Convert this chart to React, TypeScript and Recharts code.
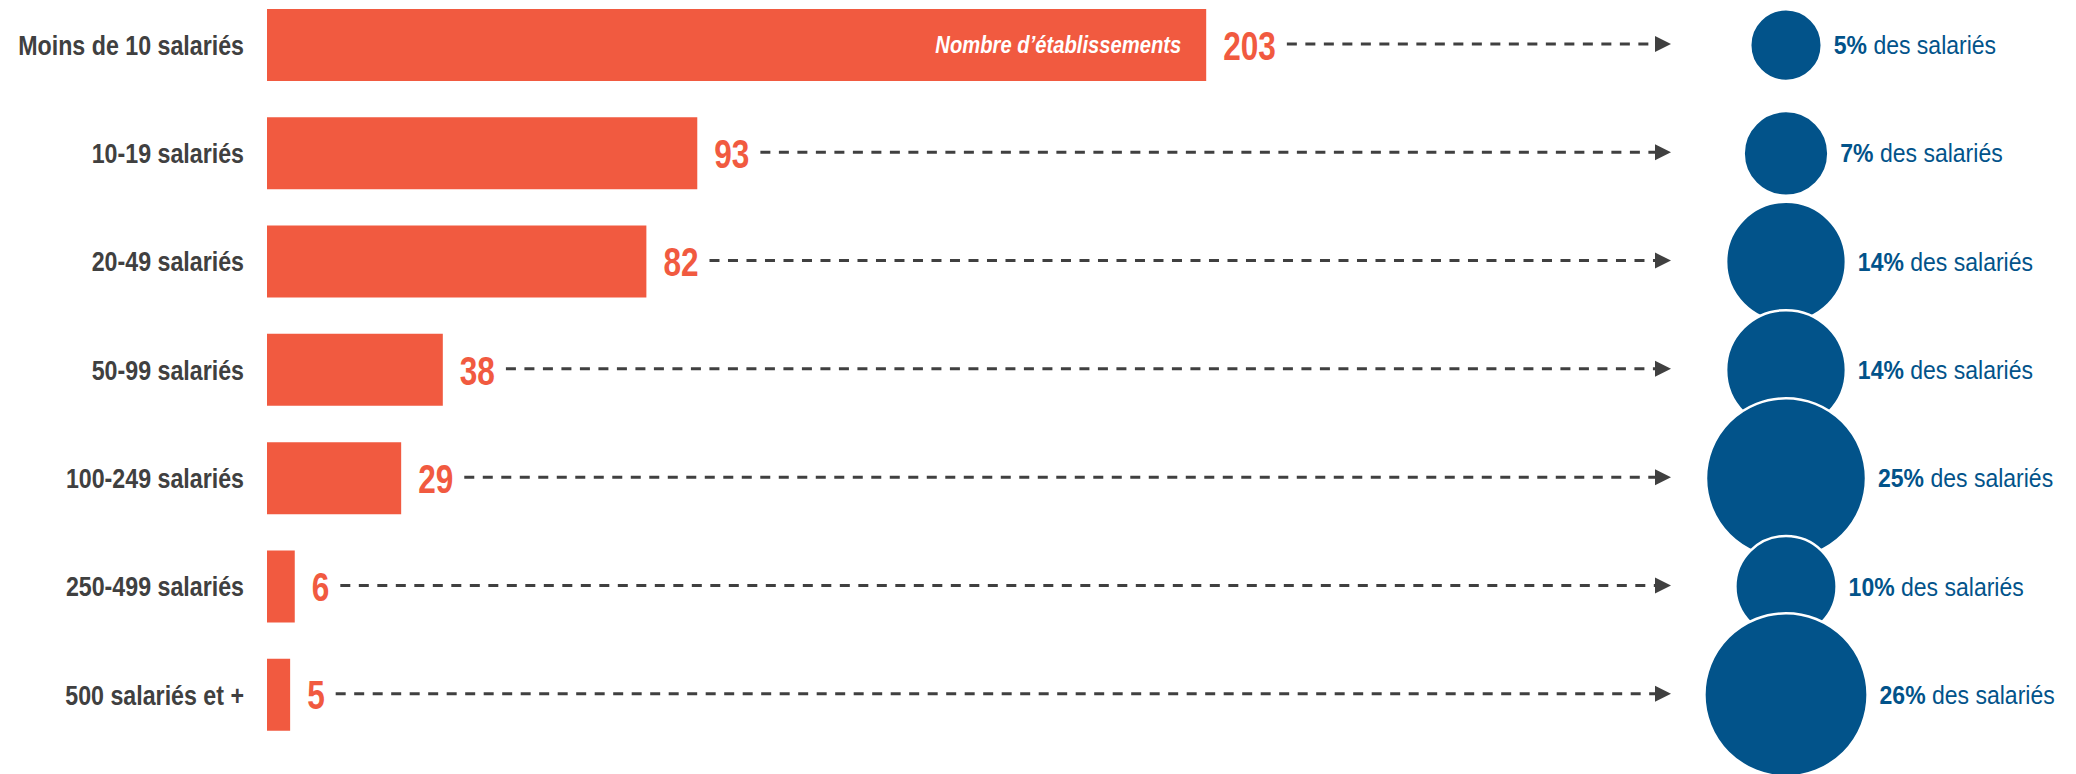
import React from 'react';
import { ComposedChart, Bar, Scatter, XAxis, YAxis, ZAxis, LabelList } from 'recharts';

const categories = [
  'Moins de 10 salariés',
  '10-19 salariés',
  '20-49 salariés',
  '50-99 salariés',
  '100-249 salariés',
  '250-499 salariés',
  '500 salariés et +',
];
const establishments = [203, 93, 82, 38, 29, 6, 5];
const employeeShare = [5, 7, 14, 14, 25, 10, 26];
const seriesName = 'Nombre d’établissements';
const shareUnit = 'des salariés';

const data = categories.map((name, i) => ({
  name,
  establishments: establishments[i],
  share: employeeShare[i],
  unit: shareUnit,
}));

const RED = '#F15A40';
const BLUE = '#02538A';
const GREY = '#404040';
const FONT = '"Liberation Sans", Arial, sans-serif';
const ARROW_TIP_X = 1671;

// condensed text: Arial metrics squeezed horizontally
function NarrowText({ x, y, scale, anchor = 'start', children, ...rest }: any) {
  return (
    <g transform={`translate(${x},${y})`}>
      <text transform={`scale(${scale},1)`} x={0} y={0} dy="0.36em" textAnchor={anchor} fontFamily={FONT} {...rest}>
        {children}
      </text>
    </g>
  );
}

function CategoryTick(props: any) {
  const { x, y, payload } = props;
  return (
    <NarrowText x={x} y={y} scale={0.86} anchor="end" fontSize={27} fontWeight="bold" fill={GREY}>
      {payload.value}
    </NarrowText>
  );
}

function ValueLabel(props: any) {
  const vb = props.viewBox ?? props;
  const { x, y, width, height } = vb;
  const tx = x + width + 17;
  const cy = y + height / 2;
  const textW = String(props.value).length * 0.556 * 41 * 0.77;
  const lineStart = tx + textW + 11;
  return (
    <g>
      <NarrowText x={tx} y={cy} scale={0.77} fontSize={41} fontWeight="bold" fill={RED}>
        {props.value}
      </NarrowText>
      <line
        x1={lineStart}
        x2={ARROW_TIP_X - 15}
        y1={cy - 1}
        y2={cy - 1}
        stroke={GREY}
        strokeWidth={3}
        strokeDasharray="10 8.5"
      />
      <path d={`M${ARROW_TIP_X - 16},${cy - 9} L${ARROW_TIP_X},${cy - 1} L${ARROW_TIP_X - 16},${cy + 7} Z`} fill={GREY} />
    </g>
  );
}

function NameLabel(props: any) {
  if (props.index !== 0) return null;
  const vb = props.viewBox ?? props;
  const { x, y, width, height } = vb;
  return (
    <NarrowText
      x={x + width - 25}
      y={y + height / 2}
      scale={0.86}
      anchor="end"
      fill="#fff"
      fontSize={23.5}
      fontWeight="bold"
      fontStyle="italic"
    >
      {seriesName}
    </NarrowText>
  );
}

function ShareLabel(props: any) {
  const vb = props.viewBox ?? props;
  const { x, y, width, height } = vb;
  return (
    <NarrowText x={x + width + 12} y={y + height / 2} scale={0.92} fontSize={25} fill={BLUE}>
      <tspan fontWeight="bold">{props.value}%</tspan>
      <tspan>{' ' + shareUnit}</tspan>
    </NarrowText>
  );
}

export default function App() {
  return (
    <div style={{ position: 'absolute', left: 0, top: -9 }}>
      <ComposedChart
        width={2076}
        height={783}
        data={data}
        layout="vertical"
        margin={{ top: 0, right: 0, bottom: 25, left: 0 }}
      >
        <XAxis xAxisId="bar" type="number" domain={[0, 391]} hide />
        <XAxis
          xAxisId="bubble"
          type="category"
          dataKey="unit"
          allowDuplicatedCategory={false}
          scale="band"
          padding={{ left: 1339, right: 110 }}
          hide
        />
        <YAxis
          type="category"
          dataKey="name"
          width={267}
          interval={0}
          tickSize={0}
          tickMargin={23}
          axisLine={false}
          tickLine={false}
          tick={<CategoryTick />}
        />
        <ZAxis dataKey="share" type="number" domain={[0, 26]} range={[0, 20910]} />
        <Bar dataKey="establishments" xAxisId="bar" fill={RED} barSize={72} isAnimationActive={false}>
          <LabelList dataKey="establishments" content={ValueLabel} />
          <LabelList dataKey="establishments" content={NameLabel} />
        </Bar>
        <Scatter xAxisId="bubble" dataKey="share" fill={BLUE} stroke="#fff" strokeWidth={2.5} isAnimationActive={false}>
          <LabelList dataKey="share" content={ShareLabel} />
        </Scatter>
      </ComposedChart>
    </div>
  );
}
